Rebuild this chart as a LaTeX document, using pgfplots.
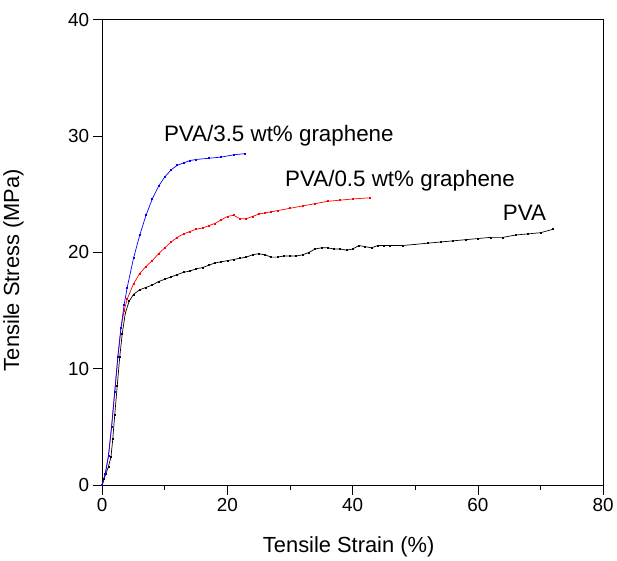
\documentclass[border=0pt]{standalone}
\usepackage{pgfplots}
\pgfplotsset{compat=1.18}
\usepackage{fontspec}
\setmainfont{Liberation Sans}
\begin{document}
\begin{tikzpicture}
\begin{axis}[
  scale only axis,
  width=504pt, height=468pt,
  xmin=0, xmax=80, ymin=0, ymax=40,
  xtick={0,20,40,60,80}, ytick={0,10,20,30,40},
  xticklabels={0,20,40,60,80}, yticklabels={0,10,20,30,40},
  minor xtick={10,30,50,70},
  xtick pos=left, ytick pos=left,
  tick align=outside,
  major tick length=9.5pt, minor tick length=5pt,
  axis line style={line width=0.8pt},
  every tick/.style={line width=0.8pt, black},
  xticklabel style={font=\fontsize{19}{19}\selectfont},
  yticklabel style={font=\fontsize{19}{19}\selectfont},
  xlabel={Tensile Strain (\%)},
  ylabel={Tensile Stress (MPa)},
  label style={font=\fontsize{22}{22}\selectfont},
  xlabel style={at={(axis description cs:0.492,-0.132)}, anchor=center},
  ylabel style={at={(axis description cs:-0.177,0.462)}, anchor=center},
  clip=false,
]
\addplot[black, line width=0.7pt, mark=square*, mark size=0.5pt] coordinates {
(0,0) (0.3,0.5) (0.6,1.0) (1.0,1.6) (1.4,2.4) (1.7,4) (2.0,6) (2.4,8.5) (2.8,11) (3.2,13) (3.7,14.8) (4.3,15.8) (5,16.4) (6,16.8) (7,17.0) (8,17.2) (9,17.5) (10,17.7) (11,17.9) (12,18.1) (13,18.3) (14,18.4) (15,18.6) (16,18.7) (17,18.9) (18,19.1) (19,19.2) (20,19.3) (21,19.4) (22,19.5) (23,19.6) (24,19.8) (25,19.9) (26,19.8) (27,19.6) (28,19.6) (29,19.7) (30,19.7) (31,19.7) (32,19.8) (33,20.0) (34,20.3) (35,20.4) (36,20.4) (37,20.3) (38,20.3) (39,20.2) (40,20.3) (41,20.6) (42,20.5) (43,20.4) (44,20.6) (45,20.6) (46,20.6) (48,20.6) (50,20.7) (52,20.8) (54,20.9) (56,21.0) (58,21.1) (60,21.2) (62,21.3) (64,21.3) (66,21.5) (68,21.6) (70,21.7) (72,22.0)
};
\addplot[red, line width=0.7pt, mark=square*, mark size=0.5pt] coordinates {
(0,0) (0.5,1) (1,2.5) (1.5,5) (2,8) (2.5,11) (3,13.5) (3.5,15) (4,16) (5,17.3) (6,18.2) (7,18.8) (8,19.3) (9,19.9) (10,20.4) (11,20.9) (12,21.3) (13,21.6) (14,21.8) (15,22.0) (16,22.1) (17,22.3) (18,22.5) (19,22.8) (20,23.1) (21,23.2) (22,22.9) (23,22.9) (24,23.1) (25,23.3) (26,23.4) (27,23.5) (28,23.6) (30,23.8) (32,24.0) (34,24.2) (36,24.4) (38,24.5) (40,24.6) (42.7,24.7)
};
\addplot[blue, line width=0.7pt, mark=square*, mark size=0.5pt] coordinates {
(0,0) (0.5,1) (1,2.5) (1.5,5) (2,8) (2.5,11) (3,13.5) (3.5,15.5) (4,17) (5,19.5) (6,21.5) (7,23.2) (8,24.6) (9,25.7) (10,26.5) (11,27.1) (12,27.5) (13,27.7) (14,27.9) (15,28.0) (17,28.1) (19,28.2) (21,28.4) (22.8,28.5)
};
\node[anchor=base west, inner sep=0pt, font=\fontsize{22.5}{22.5}\selectfont] at (axis cs:9.84,29.57) {PVA/3.5 wt\% graphene};
\node[anchor=base west, inner sep=0pt, font=\fontsize{22.5}{22.5}\selectfont] at (axis cs:29.2,25.64) {PVA/0.5 wt\% graphene};
\node[anchor=base west, inner sep=0pt, font=\fontsize{22.5}{22.5}\selectfont] at (axis cs:63.97,22.74) {PVA};
\end{axis}
\path (current axis.south west) ++(-101pt,-71pt);
\path (current axis.north east) ++(12pt,20pt);
\end{tikzpicture}
\end{document}
